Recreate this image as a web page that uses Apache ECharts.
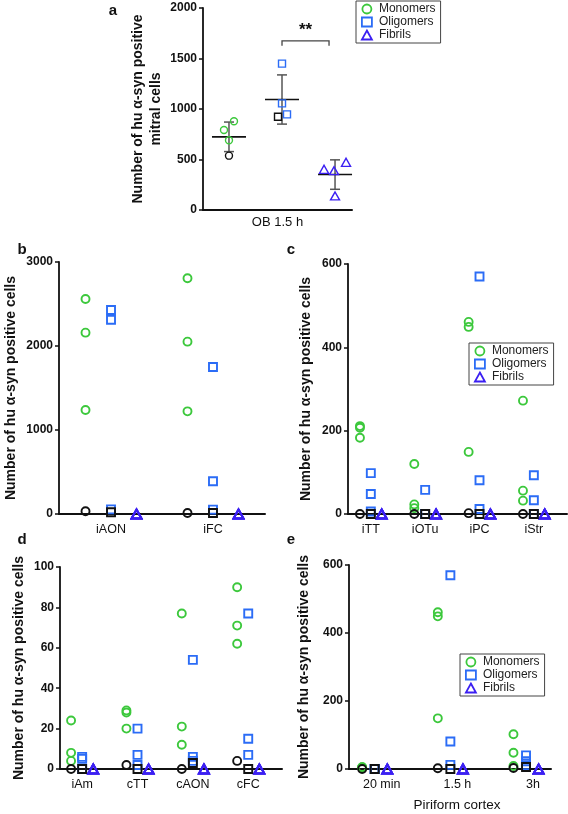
<!DOCTYPE html>
<html><head><meta charset="utf-8">
<script src="https://cdn.jsdelivr.net/npm/echarts@6/dist/echarts.min.js"></script>
<style>html,body{margin:0;padding:0;background:#fff}#c{width:568px;height:814px}</style>
</head><body><div id="c"></div>
<script>
// ================= DATA =================
const seriesNames = ['Monomers', 'Oligomers', 'Fibrils'];

// panel a : OB 1.5 h (mitral cells)
const catA = ['OB 1.5 h'];
const monoA = [878, 792, 690];
const monoA_black = [538];
const oligoA = [1449, 1056, 947];
const oligoA_black = [924];
const fibA = [403, 389, 472, 139];
const sigA = { label: '**', y: 1675 };
const ticksA = [0, 500, 1000, 1500, 2000];

// panel b
const catB = ['iAON', 'iFC'];
const monoB = [[2560, 2159, 1238], [2806, 2052, 1222]];
const monoB_black = [32, 12];
const oligoB = [[2429, 2313, 55], [1750, 389, 52]];
const oligoB_black = [20, 12];
const fibB = [[0, 0, 0, 0], [0, 0, 0, 0]];
const ticksB = [0, 1000, 2000, 3000];

// panel c
const catC = ['iTT', 'iOTu', 'iPC', 'iStr'];
const monoC = [[211, 207, 183], [120, 23, 14], [461, 449, 149], [272, 56, 32]];
const monoC_black = [0, 0, 2, 0];
const oligoC = [[98, 48, 6], [58, 0, 0], [570, 81, 12], [93, 33, 0]];
const oligoC_black = [0, 0, 0, 0];
const fibC = [[0, 0, 0, 0], [0, 0, 0, 0], [0, 0, 0, 0], [0, 0, 0, 0]];
const ticksC = [0, 200, 400, 600];

// panel d
const catD = ['iAm', 'cTT', 'cAON', 'cFC'];
const monoD = [[24, 8, 4], [29, 28, 20], [77, 21, 12], [90, 71, 62]];
const monoD_black = [0, 2, 0, 4];
const oligoD = [[6, 5, 0], [20, 7, 2], [54, 6, 4], [77, 15, 7]];
const oligoD_black = [0, 0, 3, 0];
const fibD = [[0, 0, 0, 0], [0, 0, 0, 0], [0, 0, 0, 0], [0, 0, 0, 0]];
const ticksD = [0, 20, 40, 60, 80, 100];

// panel e : Piriform cortex time course
const catE = ['20 min', '1.5 h', '3h'];
const monoE = [[5, 5, 4], [461, 449, 149], [102, 48, 9]];
const monoE_black = [0, 2, 3];
const oligoE = [[0, 0, 0], [570, 81, 12], [40, 23, 11]];
const oligoE_black = [0, 0, 6];
const fibE = [[0, 0, 0, 0], [0, 0, 0, 0], [0, 0, 0, 0]];
const ticksE = [0, 200, 400, 600];

const yTitle = 'Number of hu α-syn positive cells';
const yTitleA = 'Number of hu α-syn positive\nmitral cells';
const xTitleE = 'Piriform cortex';

// ================= LAYOUT / STYLE =================
const COL = { mono: '#3cc83c', oligo: '#2b6cf6', fib: '#3b1ff2', black: '#111111' };
const FONT = 'Liberation Sans, Arial, sans-serif';
const jitA = { mono: [5, -5, 0], monoBlack: [0], oligo: [0, 0, 5], oligoBlack: [-4], fib: [-11, -1, 11, 0] };

const panels = [
  { key: 'b', grid: { left: 59, top: 262, width: 206, height: 252 }, xr: [-0.51, 1.51], off: 0.25,
    cats: catB, mono: monoB, monoK: monoB_black, oligo: oligoB, oligoK: oligoB_black, fib: fibB, ticks: ticksB, gap: 40, title: yTitle },
  { key: 'c', grid: { left: 348, top: 264, width: 219, height: 250 }, xr: [-0.42, 3.61], off: 0.2,
    cats: catC, mono: monoC, monoK: monoC_black, oligo: oligoC, oligoK: oligoC_black, fib: fibC, ticks: ticksC, gap: 34, title: yTitle },
  { key: 'd', grid: { left: 60, top: 567, width: 222, height: 202 }, xr: [-0.40, 3.61], off: 0.2,
    cats: catD, mono: monoD, monoK: monoD_black, oligo: oligoD, oligoK: oligoD_black, fib: fibD, ticks: ticksD, gap: 33, title: yTitle },
  { key: 'e', grid: { left: 349, top: 565, width: 202, height: 204 }, xr: [-0.34, 2.33], off: 0.166,
    cats: catE, mono: monoE, monoK: monoE_black, oligo: oligoE, oligoK: oligoE_black, fib: fibE, ticks: ticksE, gap: 37, title: yTitle,
    xname: xTitleE }
];

const grids = [], xAxes = [], yAxes = [], series = [];

function yAxisCfg(idx, ticks, title, gap, fs, lh) {
  return {
    type: 'value', gridIndex: idx, min: ticks[0], max: ticks[ticks.length - 1],
    interval: ticks[1] - ticks[0],
    name: title, nameLocation: 'middle', nameRotate: 90, nameGap: gap,
    nameTextStyle: { fontFamily: FONT, fontWeight: 'bold', fontSize: fs, color: '#111', lineHeight: lh },
    axisLine: { show: true, onZero: false, lineStyle: { color: '#111', width: 1.8 } },
    axisTick: { show: true, length: 4, lineStyle: { color: '#111', width: 1.5 } },
    axisLabel: { fontFamily: FONT, fontWeight: 'bold', fontSize: 12, color: '#111', margin: 6,
      formatter: v => String(v) },
    splitLine: { show: false }
  };
}

function scatter(name, idx, symbol, size, color, bw, data, z) {
  return {
    type: 'scatter', name: name, xAxisIndex: idx, yAxisIndex: idx, symbol: symbol, symbolSize: size,
    data: data, clip: false, silent: true, z: z || 3,
    itemStyle: { color: 'rgba(255,255,255,0)', borderColor: color, borderWidth: bw, opacity: 1 },
    emphasis: { disabled: true }
  };
}

function groupPts(groups, off) {
  const out = [];
  groups.forEach((vals, g) => vals.forEach(v => out.push([g + off, v])));
  return out;
}
function singlePts(vals, off) { return vals.map((v, g) => [g + off, v]); }

panels.forEach((p, i) => {
  grids.push(Object.assign({ outerBoundsMode: 'none', containLabel: false }, p.grid));
  const cats = p.cats;
  const xa = {
    type: 'value', gridIndex: i, min: p.xr[0], max: p.xr[1],
    axisLine: { show: true, onZero: false, lineStyle: { color: '#111', width: 2 } },
    axisTick: { show: false }, splitLine: { show: false },
    axisLabel: {
      customValues: cats.map((c, k) => k), formatter: v => cats[Math.round(v)] || '',
      fontFamily: FONT, fontSize: 12.5, color: '#111', margin: 9
    }
  };
  if (p.key === 'e') {
    xa.axisLabel.padding = [0, 0, 0, 14];
    xa.name = p.xname; xa.nameLocation = 'middle'; xa.nameGap = 29;
    xa.nameTextStyle = { fontFamily: FONT, fontSize: 13.5, color: '#111', padding: [0, 0, 0, 14] };
  }
  xAxes.push(xa);
  yAxes.push(yAxisCfg(i, p.ticks, p.title, p.gap, 14, 16));
  series.push(scatter('Monomers', i, 'circle', 8, COL.mono, 1.9, groupPts(p.mono, -p.off)));
  series.push(scatter('Oligomers', i, 'rect', 8, COL.oligo, 1.9, groupPts(p.oligo, 0)));
  series.push(scatter('Fibrils', i, 'triangle', [10, 9], COL.fib, 1.9, groupPts(p.fib, p.off)));
  series.push(scatter('Monomers (black)', i, 'circle', 8, COL.black, 1.9, singlePts(p.monoK, -p.off), 4));
  series.push(scatter('Oligomers (black)', i, 'rect', 8, COL.black, 1.9, singlePts(p.oligoK, 0), 4));
});

// ----- panel a -----
const ia = panels.length;
grids.push({ left: 203, top: 8, width: 149, height: 202, outerBoundsMode: 'none', containLabel: false });
xAxes.push({
  type: 'value', gridIndex: ia, min: -1.49, max: 1.32,
  name: catA[0], nameLocation: 'middle', nameGap: 6,
  nameTextStyle: { fontFamily: FONT, fontSize: 13, color: '#111' },
  axisLine: { show: true, onZero: false, lineStyle: { color: '#111', width: 2 } },
  axisTick: { show: false }, axisLabel: { show: false }, splitLine: { show: false }
});
yAxes.push(yAxisCfg(ia, ticksA, yTitleA, 38, 14, 18));

function jittered(vals, x, jit) {
  return vals.map((v, k) => ({ value: [x, v], symbolOffset: [jit[k] || 0, 0] }));
}
series.push(scatter('Monomers', ia, 'circle', 7, COL.mono, 1.4, jittered(monoA, -1, jitA.mono)));
series.push(scatter('Oligomers', ia, 'rect', 7, COL.oligo, 1.4, jittered(oligoA, 0, jitA.oligo)));
series.push(scatter('Fibrils', ia, 'triangle', [9, 8], COL.fib, 1.4, jittered(fibA, 1, jitA.fib)));
series.push(scatter('Monomers (black)', ia, 'circle', 7, COL.black, 1.4, jittered(monoA_black, -1, jitA.monoBlack), 4));
series.push(scatter('Oligomers (black)', ia, 'rect', 7, COL.black, 1.4, jittered(oligoA_black, 0, jitA.oligoBlack), 4));

function stats(arr) {
  const m = arr.reduce((a, b) => a + b, 0) / arr.length;
  const sd = Math.sqrt(arr.reduce((a, b) => a + (b - m) * (b - m), 0) / (arr.length - 1));
  return [m, sd];
}
const groupsA = [monoA.concat(monoA_black), oligoA.concat(oligoA_black), fibA];
const errData = groupsA.map((g, k) => { const s = stats(g); return [k - 1, s[0], s[0] - s[1], s[0] + s[1]]; });

series.push({
  type: 'custom', name: 'mean±SD', xAxisIndex: ia, yAxisIndex: ia, data: errData, silent: true, z: 2,
  encode: { x: 0, y: [1, 2, 3] },
  renderItem: function (params, api) {
    const x = api.value(0);
    const pm = api.coord([x, api.value(1)]), pl = api.coord([x, api.value(2)]), ph = api.coord([x, api.value(3)]);
    const g = '#555', k = '#111';
    return { type: 'group', children: [
      { type: 'line', shape: { x1: ph[0], y1: ph[1], x2: pl[0], y2: pl[1] }, style: { stroke: g, lineWidth: 1.5 } },
      { type: 'line', shape: { x1: ph[0] - 5, y1: ph[1], x2: ph[0] + 5, y2: ph[1] }, style: { stroke: g, lineWidth: 1.5 } },
      { type: 'line', shape: { x1: pl[0] - 5, y1: pl[1], x2: pl[0] + 5, y2: pl[1] }, style: { stroke: g, lineWidth: 1.5 } },
      { type: 'line', shape: { x1: pm[0] - 17, y1: pm[1], x2: pm[0] + 17, y2: pm[1] }, style: { stroke: k, lineWidth: 1.6 } }
    ]};
  }
});
series.push({
  type: 'custom', name: 'significance', xAxisIndex: ia, yAxisIndex: ia, data: [[0, 1, sigA.y]], silent: true, z: 2,
  encode: { x: [0, 1], y: 2 },
  renderItem: function (params, api) {
    const a = api.coord([api.value(0), api.value(2)]), b = api.coord([api.value(1), api.value(2)]);
    const x2 = b[0] - 6;
    return { type: 'group', children: [
      { type: 'polyline', shape: { points: [[a[0], a[1] + 5], [a[0], a[1]], [x2, a[1]], [x2, a[1] + 5]] }, style: { stroke: '#444', lineWidth: 1.3, fill: null } },
      { type: 'text', x: (a[0] + x2) / 2, y: a[1] - 11, style: { text: sigA.label, align: 'center', verticalAlign: 'middle', font: 'bold 17px ' + FONT, fill: '#111' } }
    ]};
  }
});

function legendCfg(left, top) {
  return {
    orient: 'vertical', left: left, top: top, padding: [2, 5, 2, 5], itemGap: 1,
    itemWidth: 10, itemHeight: 9, borderColor: '#444', borderWidth: 1, backgroundColor: '#fff',
    selectedMode: false,
    textStyle: { fontFamily: FONT, fontSize: 12, color: '#222', lineHeight: 12, padding: [0, 0, 0, 2] },
    data: [
      { name: 'Monomers', icon: 'circle', itemStyle: { color: 'rgba(255,255,255,0)', borderColor: COL.mono, borderWidth: 1.8 } },
      { name: 'Oligomers', icon: 'rect', itemStyle: { color: 'rgba(255,255,255,0)', borderColor: COL.oligo, borderWidth: 1.8 } },
      { name: 'Fibrils', icon: 'triangle', itemStyle: { color: 'rgba(255,255,255,0)', borderColor: COL.fib, borderWidth: 1.8 } }
    ]
  };
}

const letters = [['a', 113, 11], ['b', 22, 250], ['c', 291, 250], ['d', 22, 540], ['e', 291, 540]];

const option = {
  animation: false,
  backgroundColor: '#fff',
  grid: grids, xAxis: xAxes, yAxis: yAxes, series: series,
  legend: [legendCfg(356, 1), legendCfg(469, 343), legendCfg(460, 654)],
  graphic: letters.map(l => ({ type: 'text', x: l[1], y: l[2], style: { text: l[0], font: 'bold 15px ' + FONT, fill: '#111', align: 'center', verticalAlign: 'middle' } }))
};

const chart = echarts.init(document.getElementById('c'), null, { renderer: 'canvas' });
chart.setOption(option);
</script></body></html>
